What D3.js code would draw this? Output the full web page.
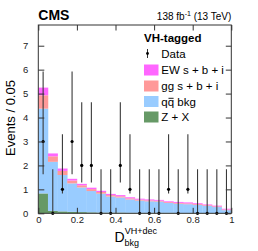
<!DOCTYPE html>
<html><head><meta charset="utf-8">
<script src="https://cdn.jsdelivr.net/npm/d3@7"></script>
<style>html,body{margin:0;padding:0;background:#fff;}svg{display:block;font-family:"Liberation Sans",Arial,sans-serif;}</style>
</head><body>
<script>
// bin edges: 20 bins of width 0.05 from 0 to 1
const binStarts = [0,0.05,0.1,0.15,0.2,0.25,0.3,0.35,0.4,0.45,0.5,0.55,0.6,0.65,0.7,0.75,0.8,0.85,0.9,0.95];
const binWidth = 0.05;
// individual stacked components (Events / 0.05)
const zx   = [0.83,0.10,0.08,0.06,0.05,0.04,0.03,0.03,0.03,0.02,0.02,0.02,0.02,0.02,0.015,0.015,0.01,0.01,0.01,0.01];
const qqbkg= [3.54,2.05,1.52,1.19,1.03,0.89,0.79,0.67,0.63,0.56,0.51,0.48,0.47,0.41,0.385,0.365,0.34,0.30,0.25,0.12];
const ggsbi= [0.56,0.23,0.17,0.12,0.09,0.08,0.07,0.06,0.05,0.045,0.04,0.04,0.035,0.035,0.035,0.035,0.035,0.03,0.03,0.03];
const ewsbi= [0.32,0.12,0.10,0.07,0.06,0.06,0.05,0.05,0.05,0.045,0.04,0.04,0.035,0.035,0.04,0.04,0.035,0.03,0.03,0.03];
const dataCounts = [3,0,1,3,2,2,0,0,2,1,0,0,0,1,0,1,0,0,0,0];
const dataErrLow  = [1.37,0,0.17,1.37,0.71,0.71,0,0,0.71,0.17,0,0,0,0.17,0,0.17,0,0,0,0];
const dataErrHigh = [5.92,1.84,3.30,5.92,4.64,4.64,1.84,1.84,4.64,3.30,1.84,1.84,1.84,3.30,1.84,3.30,1.84,1.84,1.84,1.84];
const xTicks = [0,0.2,0.4,0.6,0.8,1];
const xTickLabels = ["0","0.2","0.4","0.6","0.8","1"];
const yTicks = [0,1,2,3,4,5,6,7];
const seriesNames = ["Z + X","qq bkg","gg s + b + i","EW s + b + i"];
const seriesColors = ["#669966","#99ccff","#ff9999","#ff66ff"];

const W=258,H=251;
const L=38.3,R=231.3,T=25,B=213.3;
const x=d3.scaleLinear().domain([0,1]).range([L,R]);
const y=d3.scaleLinear().domain([0,7.865]).range([B,T]);

const svg=d3.select("body").append("svg").attr("width",W).attr("height",H);

// stacked histogram
const table = binStarts.map((s,i)=>({x0:s,"Z + X":zx[i],"qq bkg":qqbkg[i],"gg s + b + i":ggsbi[i],"EW s + b + i":ewsbi[i]}));
const stack=d3.stack().keys(seriesNames)(table);
stack.forEach((layer,k)=>{
  svg.append("g").selectAll("rect").data(layer).join("rect")
    .attr("x",d=>x(d.data.x0)).attr("width",d=>x(d.data.x0+binWidth)-x(d.data.x0)+0.3)
    .attr("y",d=>y(d[1])).attr("height",d=>Math.max(0,y(d[0])-y(d[1])))
    .attr("fill",seriesColors[k]);
});

// data points
const dg=svg.append("g");
binStarts.forEach((s,i)=>{
  const cx=x(s+binWidth/2);
  dg.append("line").attr("x1",cx).attr("x2",cx)
    .attr("y1",y(dataCounts[i]-dataErrLow[i])).attr("y2",y(dataErrHigh[i]))
    .attr("stroke","#3a3a3a").attr("stroke-width",1.1);
  dg.append("circle").attr("cx",cx).attr("cy",y(dataCounts[i])).attr("r",1.6).attr("fill","#000");
});

// frame and ticks
const fc="#333";
svg.append("rect").attr("x",L).attr("y",T).attr("width",R-L).attr("height",B-T)
  .attr("fill","none").attr("stroke",fc).attr("stroke-width",1);
const xAxisB=d3.axisBottom(x).tickValues(xTicks).tickSizeInner(-5.5).tickSizeOuter(0).tickFormat((d,i)=>xTickLabels[i]).tickPadding(3.3);
const gxb=svg.append("g").attr("transform",`translate(0,${B})`).call(xAxisB);
const xAxisT=d3.axisTop(x).tickValues(xTicks).tickSizeInner(-5.5).tickSizeOuter(0).tickFormat("");
const gxt=svg.append("g").attr("transform",`translate(0,${T})`).call(xAxisT);
const yAxisL=d3.axisLeft(y).tickValues(yTicks).tickSizeInner(-6).tickSizeOuter(0).tickFormat(d3.format("d")).tickPadding(10);
const gyl=svg.append("g").attr("transform",`translate(${L},0)`).call(yAxisL);
const yAxisR=d3.axisRight(y).tickValues(yTicks).tickSizeInner(-5.5).tickSizeOuter(0).tickFormat("");
const gyr=svg.append("g").attr("transform",`translate(${R},0)`).call(yAxisR);
[gxb,gxt,gyl,gyr].forEach(g=>{
  g.select(".domain").remove();
  g.selectAll(".tick line").attr("stroke",fc);
  g.selectAll(".tick text").attr("fill","#222").style("font-size","9.5px").style("font-family","Liberation Sans, Arial, sans-serif");
});

// titles
svg.append("text").attr("x",L).attr("y",19.5).attr("font-weight","bold").style("font-size","14px").attr("fill","#000").text("CMS");
const lumi=svg.append("text").attr("x",R).attr("y",20).attr("text-anchor","end").style("font-size","10px").attr("fill","#000");
lumi.append("tspan").text("138 fb");
lumi.append("tspan").attr("dy",-4).style("font-size","7px").text("-1");
lumi.append("tspan").attr("dy",4).text(" (13 TeV)");

svg.append("text").attr("transform","translate(15,118) rotate(-90)").attr("text-anchor","middle")
  .style("font-size","13px").attr("fill","#000").text("Events / 0.05");

const xt=svg.append("text").attr("x",114.5).attr("y",241.5).style("font-size","14px").attr("fill","#000");
xt.append("tspan").text("D");
xt.append("tspan").attr("dy",-7.5).style("font-size","9px").text("VH+dec");
svg.append("text").attr("x",124.5).attr("y",245.5).style("font-size","9px").attr("fill","#000").text("bkg");

// legend
const lg=svg.append("g");
lg.append("text").attr("x",144).attr("y",42).attr("font-weight","bold").style("font-size","11.5px").attr("fill","#000").text("VH-tagged");
const ly=[53.5,70,86,101.5,117];
lg.append("line").attr("x1",147.5).attr("x2",147.5).attr("y1",ly[0]-4.5).attr("y2",ly[0]+4.5).attr("stroke","#333").attr("stroke-width",1);
lg.append("circle").attr("cx",147.5).attr("cy",ly[0]).attr("r",1.4).attr("fill","#000");
lg.append("text").attr("x",161.3).attr("y",ly[0]+4).style("font-size","11.5px").attr("fill","#000").text("Data");
const legOrder=[3,2,1,0];
legOrder.forEach((k,j)=>{
  const yy=ly[j+1];
  lg.append("rect").attr("x",144).attr("y",yy-5.5).attr("width",14.5).attr("height",11).attr("fill",seriesColors[k]);
  const t=lg.append("text").attr("x",161.3).attr("y",yy+4).style("font-size","11.5px").attr("fill","#000").text(seriesNames[k]);
  if(seriesNames[k]==="qq bkg"){
    const ext=t.node().getExtentOfChar(1);
    lg.append("line").attr("x1",ext.x+0.8).attr("x2",ext.x+ext.width-0.5)
      .attr("y1",yy-3.2).attr("y2",yy-3.2).attr("stroke","#000").attr("stroke-width",0.9);
  }
});
</script>
</body></html>
